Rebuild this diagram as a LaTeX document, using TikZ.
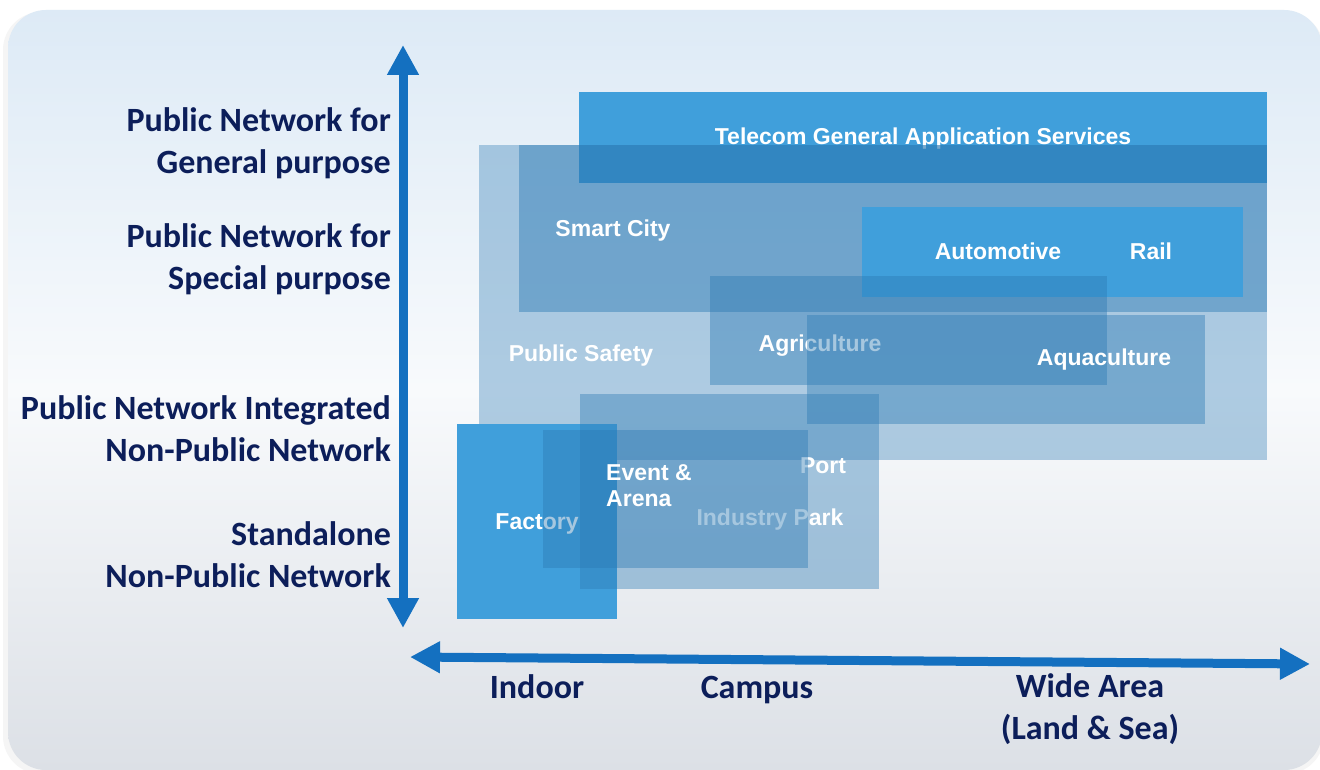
\documentclass[tikz,border=0pt]{standalone}
\usepackage{fontspec}
\setmainfont{Carlito}
\newfontfamily\boxfont{Liberation Sans}
\usetikzlibrary{arrows.meta}

\definecolor{axisblue}{RGB}{20,112,192}
\definecolor{navy}{RGB}{12,30,90}
\definecolor{brightblue}{RGB}{64,159,219}
\definecolor{veilblue}{RGB}{44,122,180}
\definecolor{bgtop}{RGB}{221,234,246}
\definecolor{bgmid}{RGB}{248,250,252}
\definecolor{bgbot}{RGB}{220,224,230}

\tikzset{
  axislbl/.style={text=navy, inner sep=0pt, font=\bfseries\fontsize{34}{42}\selectfont},
  applbl/.style={text=white, inner sep=0pt, yshift=-3pt, font=\boxfont\bfseries\fontsize{23}{26}\selectfont},
  solidbox/.style={fill=brightblue},
  veilbox/.style={fill=veilblue, fill opacity=#1},
  axisarr/.style={draw=axisblue, line width=9pt,
    {Triangle[length=30pt,width=30pt]}-{Triangle[length=30pt,width=30pt]}},
}

\begin{document}
\begin{tikzpicture}[x=1pt,y=-1pt]
\useasboundingbox (0,0) rectangle (1320,770);
\fill[white] (0,0) rectangle (1320,770);
\fill[black!4, rounded corners=38pt] (3,12) rectangle (1324,774);
\shade[top color=bgtop, bottom color=bgbot, middle color=bgmid, rounded corners=38pt]
  (8,10) rectangle (1322,770);

\fill[solidbox] (579,92) rectangle (1267,183);
\node[applbl] (telecom) at (923,136) {Telecom General Application Services};

\fill[veilbox=.36] (479,145) rectangle (1267,460);
\node[applbl] (safety) at (581,353) {Public Safety};

\fill[veilbox=.45] (519,145) rectangle (1267,312);
\node[applbl] (smart) at (613,228) {Smart City};

\fill[solidbox] (862,207) rectangle (1243,297);
\node[applbl] (auto) at (998,248) {Automotive};
\node[applbl] (rail) at (1151,248) {Rail};

\fill[veilbox=.42] (710,276) rectangle (1107,385);
\node[applbl] (agri) at (820,343) {Agriculture};

\fill[veilbox=.42] (807,315) rectangle (1205,424);
\node[applbl] (aqua) at (1104,357) {Aquaculture};

\fill[solidbox] (457,424) rectangle (617,619);
\node[applbl] (factory) at (537,521) {Factory};

\fill[veilbox=.4] (580,394) rectangle (879,589);
\node[applbl] (port) at (823,463) {Port};
\node[applbl] (park) at (770,517) {Industry Park};

\fill[veilbox=.42] (543,430) rectangle (808,568);
\node[applbl, align=left, anchor=west] (event) at (606,483) {Event \&\\Arena};

\coordinate (ytop) at (403,45);
\coordinate (ybot) at (403,628);
\draw[axisarr] (ybot) -- (ytop);

\coordinate (xleft) at (410,657);
\coordinate (xright) at (1310,664);
\draw[axisarr] (xleft) -- (xright);

\node[axislbl, align=right, anchor=east] (general) at (391,143) {Public Network for\\General purpose};
\node[axislbl, align=right, anchor=east] (special) at (391,259) {Public Network for\\Special purpose};
\node[axislbl, align=right, anchor=east] (integrated) at (391,429) {Public Network Integrated\\Non-Public Network};
\node[axislbl, align=right, anchor=east] (standalone) at (391,555) {Standalone\\Non-Public Network};

\node[axislbl] (indoor) at (537,687) {Indoor};
\node[axislbl] (campus) at (757,690) {Campus};
\node[axislbl, align=center] (wide) at (1090,709) {Wide Area\\(Land \& Sea)};

\end{tikzpicture}
\end{document}
